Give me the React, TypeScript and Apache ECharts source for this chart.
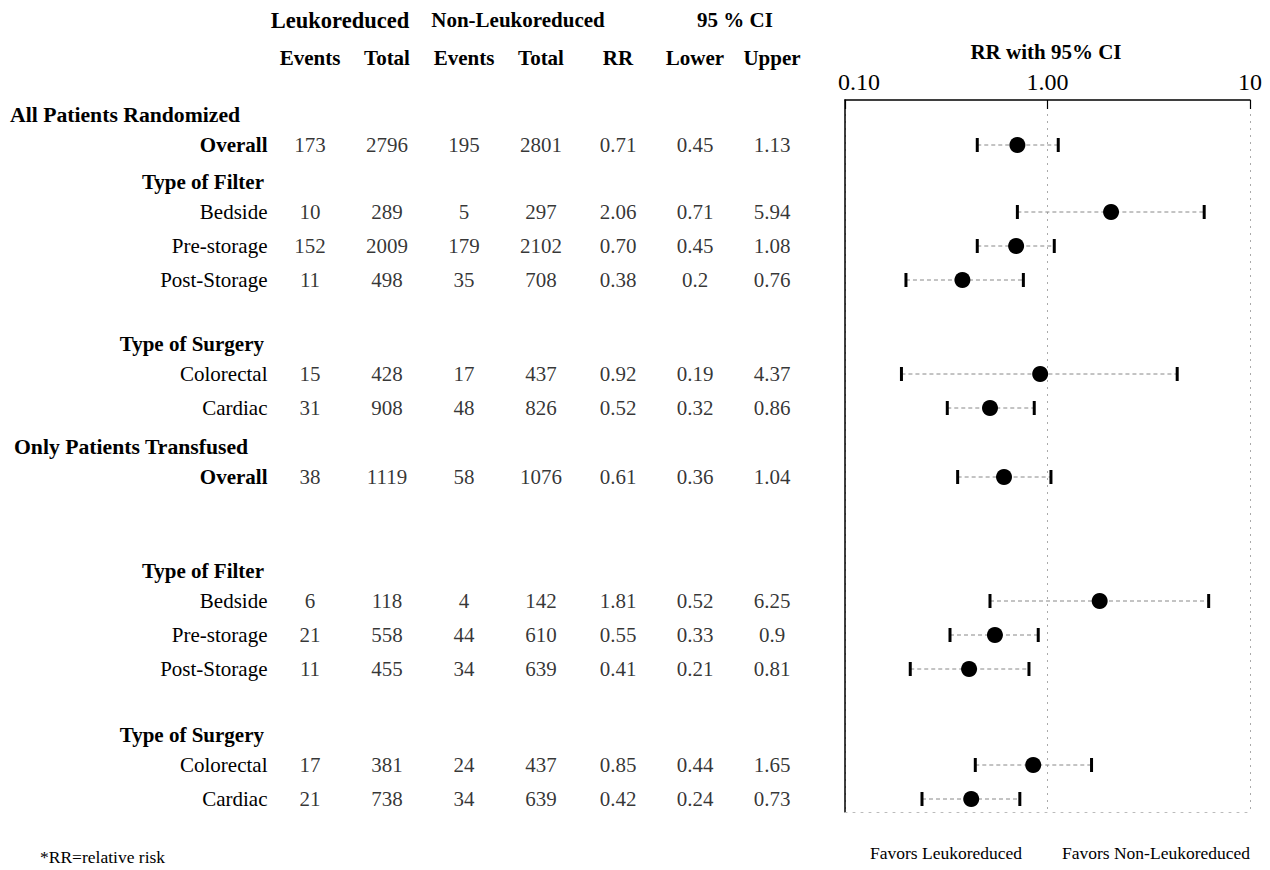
import React, { useEffect, useRef } from "react";
import * as echarts from "echarts";

// ---------- data ----------
const spanHeaders = ["Leukoreduced", "Non-Leukoreduced", "95 % CI"];
const columnHeaders = ["Events", "Total", "Events", "Total", "RR", "Lower", "Upper"];
const plotTitle = "RR with 95% CI";
const axisTickLabels = ["0.10", "1.00", "10"];

const blockHeaders = [
  "All Patients Randomized",
  "Type of Filter",
  "Type of Surgery",
  "Only Patients Transfused",
  "Type of Filter",
  "Type of Surgery",
];
const blockIsPopulation = [true, false, false, true, false, false];
const blockSizes = [1, 3, 2, 1, 3, 2];

const rowLabels = [
  "Overall", "Bedside", "Pre-storage", "Post-Storage", "Colorectal", "Cardiac",
  "Overall", "Bedside", "Pre-storage", "Post-Storage", "Colorectal", "Cardiac",
];
const leukoEvents = [173, 10, 152, 11, 15, 31, 38, 6, 21, 11, 17, 21];
const leukoTotal = [2796, 289, 2009, 498, 428, 908, 1119, 118, 558, 455, 381, 738];
const nonLeukoEvents = [195, 5, 179, 35, 17, 48, 58, 4, 44, 34, 24, 34];
const nonLeukoTotal = [2801, 297, 2102, 708, 437, 826, 1076, 142, 610, 639, 437, 639];
const rr = ["0.71", "2.06", "0.70", "0.38", "0.92", "0.52", "0.61", "1.81", "0.55", "0.41", "0.85", "0.42"];
const ciLower = ["0.45", "0.71", "0.45", "0.2", "0.19", "0.32", "0.36", "0.52", "0.33", "0.21", "0.44", "0.24"];
const ciUpper = ["1.13", "5.94", "1.08", "0.76", "4.37", "0.86", "1.04", "6.25", "0.9", "0.81", "1.65", "0.73"];

const footnote = "*RR=relative risk";
const favorsLabels = ["Favors Leukoreduced", "Favors Non-Leukoreduced"];

// ---------- layout ----------
const FONT = "'Liberation Serif', 'Times New Roman', serif";
const FS = 21;
const ROW_H = 34;
const COL_W = 77;
const TABLE_LEFT = 271.5;
const PLOT_LEFT = 845;
const PLOT_W = 405;
const FRAME_TOP = 100;
const FRAME_BOTTOM = 812;
const blockFirstCenter = [145, 212, 374, 477, 601, 765];
const spanHeaderX = [340, 518, 735];

export default function App() {
  const ref = useRef<HTMLDivElement>(null);

  useEffect(() => {
    const chart = echarts.init(ref.current!, null, { renderer: "svg" });

    const grids: any[] = [];
    const xAxes: any[] = [];
    const yAxes: any[] = [];
    const series: any[] = [];
    const graphics: any[] = [];

    const text = (t: string, x: number, y: number, opts: any = {}) => {
      const align = opts.align || "left";
      graphics.push({
        type: "text",
        x,
        y,
        silent: true,
        style: {
          text: t,
          fill: "#000",
          fontFamily: FONT,
          fontSize: opts.fontSize || FS,
          fontWeight: opts.bold ? "bold" : "normal",
          textAlign: align,
          align,
          textVerticalAlign: "middle",
          verticalAlign: "middle",
        },
      });
    };

    // frame grid (axis on top, box)
    grids.push({ left: PLOT_LEFT, width: PLOT_W, top: FRAME_TOP, height: FRAME_BOTTOM - FRAME_TOP });
    xAxes.push({
      gridIndex: 0,
      type: "log",
      logBase: 10,
      min: 0.1,
      max: 10,
      position: "top",
      axisLine: { show: true, onZero: false, lineStyle: { color: "#000", width: 1.5 } },
      axisTick: { show: true, inside: true, length: 9, lineStyle: { color: "#000", width: 1.2 } },
      axisLabel: {
        show: true,
        margin: 6,
        color: "#000",
        fontFamily: FONT,
        fontSize: 24,
        formatter: (v: number) =>
          v < 0.5 ? "{first|" + axisTickLabels[0] + "}" : v < 5 ? axisTickLabels[1] : axisTickLabels[2],
        rich: {
          first: { fontFamily: FONT, fontSize: 24, color: "#000", padding: [0, 0, 0, 28] },
        },
      },
      splitLine: { show: true, lineStyle: { color: "#aaa", type: [2, 5], width: 1 } },
    });
    xAxes.push({
      gridIndex: 0,
      type: "log",
      logBase: 10,
      min: 0.1,
      max: 10,
      position: "bottom",
      axisLine: { show: true, onZero: false, lineStyle: { color: "#bbb", type: [2, 6], width: 1 } },
      axisTick: { show: false },
      axisLabel: { show: false },
      splitLine: { show: false },
    });
    yAxes.push({
      gridIndex: 0,
      type: "value",
      min: 0,
      max: 1,
      axisLine: { show: true, onZero: false, lineStyle: { color: "#000", width: 1.5 } },
      axisTick: { show: false },
      axisLabel: { show: false },
      splitLine: { show: false },
    });

    let rowStart = 0;
    blockSizes.forEach((n, b) => {
      const idx = Array.from({ length: n }, (_, k) => rowStart + k);
      const top = blockFirstCenter[b] - ROW_H / 2;

      // table grid
      const tg = grids.length;
      grids.push({ left: TABLE_LEFT, width: COL_W * columnHeaders.length, top, height: n * ROW_H });
      const tx = xAxes.length;
      xAxes.push({
        gridIndex: tg,
        type: "category",
        data: columnHeaders.map((_, i) => "c" + i),
        position: "top",
        show: b === 0,
        axisLine: { show: false },
        axisTick: { show: false },
        axisLabel: {
          show: b === 0,
          interval: 0,
          margin: 60,
          color: "#000",
          fontFamily: FONT,
          fontSize: FS,
          fontWeight: "bold",
          formatter: (_: string, i: number) => columnHeaders[i],
        },
        splitLine: { show: false },
      });
      const ty = yAxes.length;
      yAxes.push({
        gridIndex: tg,
        type: "category",
        inverse: true,
        data: idx.map((i) => ({
          value: rowLabels[i],
          textStyle: { fontWeight: rowLabels[i] === "Overall" ? "bold" : "normal" },
        })),
        axisLine: { show: false },
        axisTick: { show: false },
        splitLine: { show: false },
        axisLabel: { margin: 4, color: "#000", fontFamily: FONT, fontSize: FS },
      });
      const cells: any[] = [];
      idx.forEach((i, r) => {
        const vals = [leukoEvents[i], leukoTotal[i], nonLeukoEvents[i], nonLeukoTotal[i], rr[i], ciLower[i], ciUpper[i]];
        vals.forEach((v, c) => cells.push([c, r, String(v)]));
      });
      series.push({
        type: "scatter",
        xAxisIndex: tx,
        yAxisIndex: ty,
        symbolSize: 1,
        silent: true,
        itemStyle: { color: "rgba(0,0,0,0)" },
        label: {
          show: true,
          position: "inside",
          formatter: (p: any) => p.value[2],
          color: "#000",
          fontFamily: FONT,
          fontSize: FS,
        },
        data: cells,
      });

      // plot grid
      const pg = grids.length;
      grids.push({ left: PLOT_LEFT, width: PLOT_W, top, height: n * ROW_H });
      const px = xAxes.length;
      xAxes.push({ gridIndex: pg, type: "log", logBase: 10, min: 0.1, max: 10, show: false, splitLine: { show: false } });
      const py = yAxes.length;
      yAxes.push({
        gridIndex: pg,
        type: "category",
        inverse: true,
        data: idx.map((i) => rowLabels[i]),
        show: false,
      });
      series.push({
        type: "custom",
        xAxisIndex: px,
        yAxisIndex: py,
        silent: true,
        encode: { x: [0, 1], y: 2 },
        data: idx.map((i, r) => [parseFloat(ciLower[i]), parseFloat(ciUpper[i]), r]),
        renderItem: (_p: any, api: any) => {
          const r = api.value(2);
          const lo = api.coord([api.value(0), r]);
          const hi = api.coord([api.value(1), r]);
          const cap = 7;
          return {
            type: "group",
            children: [
              {
                type: "line",
                shape: { x1: lo[0], y1: lo[1], x2: hi[0], y2: hi[1] },
                style: { stroke: "#888", lineWidth: 1, lineDash: [4, 3] },
              },
              {
                type: "line",
                shape: { x1: lo[0], y1: lo[1] - cap, x2: lo[0], y2: lo[1] + cap },
                style: { stroke: "#000", lineWidth: 3 },
              },
              {
                type: "line",
                shape: { x1: hi[0], y1: hi[1] - cap, x2: hi[0], y2: hi[1] + cap },
                style: { stroke: "#000", lineWidth: 3 },
              },
            ],
          };
        },
      });
      series.push({
        type: "scatter",
        xAxisIndex: px,
        yAxisIndex: py,
        symbol: "circle",
        symbolSize: 16,
        silent: true,
        itemStyle: { color: "#000", opacity: 1 },
        data: idx.map((i, r) => [parseFloat(rr[i]), r]),
        z: 5,
      });

      // block header
      const hy = blockFirstCenter[b] - 30;
      if (blockIsPopulation[b]) {
        text(blockHeaders[b], b === 0 ? 10 : 14, hy, { bold: true, fontSize: 21.7 });
      } else {
        text(blockHeaders[b], 264, hy, { bold: true, align: "right" });
      }

      rowStart += n;
    });

    spanHeaders.forEach((h, i) =>
      text(h, spanHeaderX[i], 20, { bold: true, align: "center", fontSize: i === 0 ? 22.5 : FS })
    );
    text(plotTitle, 1046, 52, { bold: true, align: "center" });
    text(footnote, 40, 857, { fontSize: 17.5 });
    text(favorsLabels[0], 946, 853, { fontSize: 17.5, align: "center" });
    text(favorsLabels[1], 1156, 853, { fontSize: 17.5, align: "center" });

    chart.setOption({
      animation: false,
      backgroundColor: "#fff",
      textStyle: { fontFamily: FONT },
      grid: grids,
      xAxis: xAxes,
      yAxis: yAxes,
      series,
      graphic: graphics,
    });

    return () => chart.dispose();
  }, []);

  return (
    <div
      ref={ref}
      style={{ position: "fixed", left: 0, top: 0, width: 1270, height: 870, background: "#fff" }}
    />
  );
}
